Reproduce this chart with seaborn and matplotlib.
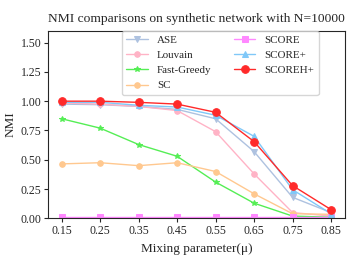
import pandas as pd
import matplotlib
matplotlib.use("Agg")
import matplotlib.pyplot as plt
import seaborn as sns

mixing = [0.15, 0.25, 0.35, 0.45, 0.55, 0.65, 0.75, 0.85]

ase = [0.975, 0.97, 0.955, 0.93, 0.85, 0.57, 0.18, 0.05]
louvain = [0.985, 0.975, 0.955, 0.92, 0.74, 0.38, 0.05, 0.02]
fast_greedy = [0.85, 0.77, 0.63, 0.53, 0.31, 0.13, 0.02, 0.01]
sc = [0.465, 0.475, 0.45, 0.475, 0.40, 0.21, 0.04, 0.035]
score = [0.01, 0.01, 0.01, 0.01, 0.01, 0.01, 0.01, 0.01]
score_plus = [0.99, 0.99, 0.965, 0.95, 0.88, 0.70, 0.245, 0.04]
scoreh_plus = [1.0, 1.0, 0.99, 0.975, 0.905, 0.655, 0.28, 0.075]

methods = ["ASE", "Louvain", "Fast-Greedy", "SC", "SCORE", "SCORE+", "SCOREH+"]
values = [ase, louvain, fast_greedy, sc, score, score_plus, scoreh_plus]

colors = ["#aec2e0", "#ffb3c6", "#55ee55", "#ffc88f", "#ff88ff", "#80c8f8", "#ff2a2a"]
markers = ["v", "o", "*", "o", "s", "^", "o"]
msizes = [4, 4, 4, 4, 4, 4, 5.5]

sns.set_style("ticks")
plt.rcParams["font.family"] = ["Liberation Serif", "DejaVu Serif"]

fig, ax = plt.subplots(figsize=(3.57, 2.68), dpi=100)

for name, vals, c, m, s in zip(methods, values, colors, markers, msizes):
    df = pd.DataFrame({"mu": mixing, "nmi": vals})
    sns.lineplot(data=df, x="mu", y="nmi", ax=ax, color=c, marker=m,
                 markersize=s, markeredgecolor=c, linewidth=1.0, label=name)

ax.set_xticks(mixing)
ax.set_xticklabels([f"{v:.2f}" for v in mixing], fontsize=8.5)
ax.set_yticks([0, 0.25, 0.5, 0.75, 1.0, 1.25, 1.5])
ax.set_yticklabels(["0.00", "0.25", "0.50", "0.75", "1.00", "1.25", "1.50"], fontsize=8.5)
ax.tick_params(length=3, pad=2)
ax.set_ylim(0, 1.6)
ax.set_xlim(0.115, 0.885)
ax.set_xlabel("Mixing parameter(μ)", fontsize=9.5, labelpad=4)
ax.set_ylabel("NMI", fontsize=9.5, labelpad=3)
ax.set_title("NMI comparisons on synthetic network with N=10000", fontsize=9.7)
ax.legend(ncol=2, loc="upper left", bbox_to_anchor=(0.249, 1.0), borderaxespad=0,
          fontsize=7.9)

plt.subplots_adjust(left=0.135, right=0.965, top=0.885, bottom=0.185)
plt.savefig("out.png", dpi=100)
